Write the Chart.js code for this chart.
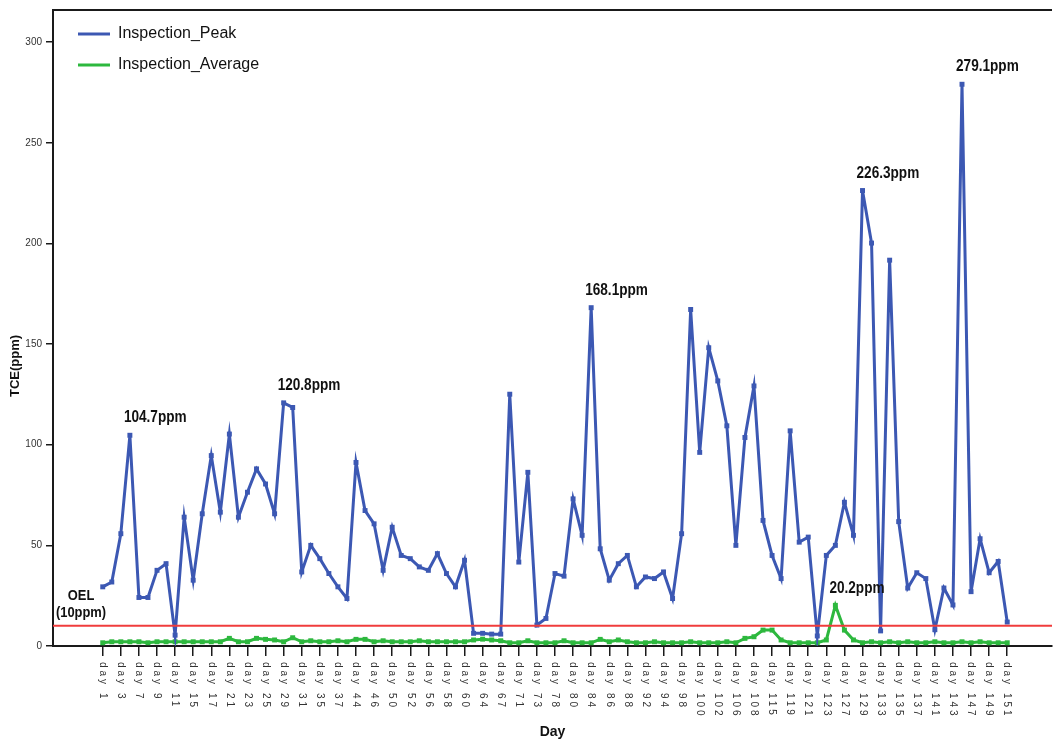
<!DOCTYPE html>
<html>
<head>
<meta charset="utf-8">
<script src="https://cdn.jsdelivr.net/npm/chart.js@4.4.0/dist/chart.umd.min.js"></script>
<style>
  html, body { margin: 0; padding: 0; background: #fff; }
  #wrap { width: 1056px; height: 745px; }
</style>
</head>
<body>
<div id="wrap"><canvas id="myChart" width="1056" height="745"></canvas></div>
<script>
// inspection days shown on the axis (every second sample)
const dayTicks = [
  'day 1', 'day 3', 'day 7', 'day 9', 'day 11', 'day 15', 'day 17', 'day 21', 'day 23', 'day 25',
  'day 29', 'day 31', 'day 35', 'day 37', 'day 44', 'day 46', 'day 50', 'day 52', 'day 56', 'day 58',
  'day 60', 'day 64', 'day 67', 'day 71', 'day 73', 'day 78', 'day 80', 'day 84', 'day 86', 'day 88',
  'day 92', 'day 94', 'day 98', 'day 100', 'day 102', 'day 106', 'day 108', 'day 115', 'day 119', 'day 121',
  'day 123', 'day 127', 'day 129', 'day 133', 'day 135', 'day 137', 'day 141', 'day 143', 'day 147', 'day 149',
  'day 151'
]

// TCE peak per inspection (ppm)
const peakValues = [
  29.4, 31.8, 55.8, 104.7, 24.1, 24.1, 37.6, 40.9, 5.4, 64.0,
  32.7, 65.7, 94.6, 66.5, 105.3, 64.0, 76.4, 88.0, 80.5, 65.7,
  120.8, 118.5, 36.8, 50.0, 43.4, 36.0, 29.4, 23.6, 91.2, 67.3,
  60.7, 37.6, 59.0, 45.0, 43.4, 39.3, 37.6, 45.9, 36.0, 29.4,
  42.6, 6.3, 6.3, 5.9, 5.9, 125.1, 41.7, 86.3, 10.4, 13.7,
  36.0, 34.7, 73.1, 55.0, 168.1, 48.3, 32.7, 40.9, 45.0, 29.4,
  34.3, 33.5, 36.8, 23.6, 55.8, 167.2, 96.2, 148.2, 131.7, 109.4,
  50.0, 103.6, 129.2, 62.4, 45.0, 33.5, 106.9, 51.6, 54.1, 5.0,
  45.0, 50.0, 71.4, 55.0, 226.3, 200.2, 7.5, 191.7, 61.8, 28.8,
  36.4, 33.5, 8.1, 28.8, 20.4, 279.1, 27.0, 53.3, 36.4, 42.0,
  11.9
]

// TCE average per inspection (ppm)
const averageValues = [
  1.6, 2.1, 2.1, 2.1, 2.1, 1.6, 2.1, 2.1, 2.1, 2.1,
  2.1, 2.1, 2.1, 2.1, 3.8, 2.1, 2.1, 3.8, 3.3, 3.0,
  2.1, 4.1, 2.1, 2.6, 2.1, 2.1, 2.6, 2.1, 3.3, 3.3,
  2.1, 2.6, 2.1, 2.1, 2.1, 2.6, 2.1, 2.1, 2.1, 2.1,
  2.1, 3.0, 3.4, 3.0, 2.6, 1.6, 1.6, 2.6, 1.6, 1.6,
  1.6, 2.6, 1.6, 1.6, 1.6, 3.3, 2.1, 3.0, 2.1, 1.6,
  1.6, 2.1, 1.6, 1.6, 1.6, 2.1, 1.6, 1.6, 1.6, 2.1,
  1.6, 3.8, 4.6, 7.9, 7.9, 3.0, 1.6, 1.6, 1.6, 1.6,
  3.0, 20.2, 7.9, 3.0, 1.6, 2.1, 1.6, 2.1, 1.6, 2.1,
  1.6, 1.6, 2.1, 1.6, 1.6, 2.1, 1.6, 2.1, 1.6, 1.6,
  1.6
]

const oelLevel = 10
const yTicks = [0, 50, 100, 150, 200, 250, 300]

// samples that get a value note
const peakNotes = [3, 20, 54, 84, 95]
const averageNotes = [81]

const BLUE = '#3c58b3'
const GREEN = '#2db83e'
const RED = '#f03c3c'
const INK = '#1a1a1a'
const SANS = '"Liberation Sans", Arial, sans-serif'

const toPoints = (values) => values.map((v, i) => ({ x: i, y: v }))

// squeezed bold text, the canvas has no condensed face to hand
const narrowText = (ctx, text, x, y, squeeze) => {
  ctx.save()
  ctx.translate(x, y)
  ctx.scale(squeeze, 1)
  ctx.fillText(text, 0, 0)
  ctx.restore()
}

const chartDecor = {
  id: 'chartDecor',
  afterLayout(chart) {
    // keep the in-plot legend clear of the axes
    chart.legend.left += 10
    chart.legend.top += 11
  },
  afterDatasetsDraw(chart) {
    const { ctx, chartArea, scales: { x, y } } = chart
    ctx.save()

    // occupational exposure limit
    const yOel = y.getPixelForValue(oelLevel)
    ctx.strokeStyle = RED
    ctx.lineWidth = 2
    ctx.beginPath()
    ctx.moveTo(chartArea.left, yOel)
    ctx.lineTo(chartArea.right, yOel)
    ctx.stroke()

    ctx.fillStyle = '#111'
    ctx.font = 'bold 15px ' + SANS
    ctx.textAlign = 'center'
    ctx.textBaseline = 'alphabetic'
    const cx = chartArea.left + 28
    narrowText(ctx, 'OEL', cx, yOel - 26, 0.86)
    narrowText(ctx, '(' + oelLevel + 'ppm)', cx, yOel - 9, 0.86)

    // value notes over the highest readings
    ctx.font = 'bold 17px ' + SANS
    ctx.textAlign = 'left'
    ctx.textBaseline = 'bottom'
    const note = (values, i) => {
      const px = x.getPixelForValue(i)
      const py = y.getPixelForValue(values[i])
      narrowText(ctx, values[i].toFixed(1) + 'ppm', px - 6, py - 9, 0.8)
    }
    peakNotes.forEach((i) => note(peakValues, i))
    averageNotes.forEach((i) => note(averageValues, i))

    ctx.restore()
  },
  afterDraw(chart) {
    const { ctx, chartArea, scales: { x } } = chart
    ctx.save()

    // top edge of the plot frame
    ctx.strokeStyle = INK
    ctx.lineWidth = 2
    ctx.beginPath()
    ctx.moveTo(chartArea.left - 1, chartArea.top)
    ctx.lineTo(chartArea.right, chartArea.top)
    ctx.stroke()

    // day labels, turned to read top-down
    ctx.fillStyle = '#333'
    ctx.font = '10px ' + SANS
    ctx.letterSpacing = '3px'
    ctx.textAlign = 'left'
    ctx.textBaseline = 'middle'
    dayTicks.forEach((label, k) => {
      ctx.save()
      ctx.translate(x.getPixelForValue(k * 2), chartArea.bottom + 16)
      ctx.rotate(Math.PI / 2)
      ctx.fillText(label, 0, 0)
      ctx.restore()
    })
    ctx.letterSpacing = '0px'

    // y axis title
    ctx.fillStyle = '#111'
    ctx.font = 'bold 13px ' + SANS
    ctx.textAlign = 'center'
    ctx.textBaseline = 'middle'
    ctx.translate(15, (chartArea.top + chartArea.bottom) / 2 + 38)
    ctx.rotate(-Math.PI / 2)
    ctx.fillText('TCE(ppm)', 0, 0)

    ctx.restore()
  }
}

const config = {
  type: 'line',
  data: {
    datasets: [
      {
        label: 'Inspection_Peak',
        data: toPoints(peakValues),
        borderColor: BLUE,
        backgroundColor: BLUE,
        borderWidth: 3,
        pointStyle: 'rect',
        pointRadius: 3.5,
        pointBorderWidth: 0,
        tension: 0
      },
      {
        label: 'Inspection_Average',
        data: toPoints(averageValues),
        borderColor: GREEN,
        backgroundColor: GREEN,
        borderWidth: 3,
        pointStyle: 'rect',
        pointRadius: 3.5,
        pointBorderWidth: 0,
        tension: 0
      }
    ]
  },
  options: {
    responsive: false,
    animation: false,
    layout: { padding: { top: 8, right: 0, bottom: 0, left: 0 } },
    plugins: {
      legend: {
        position: 'chartArea',
        align: 'start',
        labels: {
          usePointStyle: true,
          pointStyleWidth: 32,
          padding: 15,
          color: '#111',
          font: { family: SANS, size: 16 },
          // plain line swatches in the series colour
          generateLabels: (chart) => chart.data.datasets.map((ds, i) => ({
            text: ds.label,
            datasetIndex: i,
            pointStyle: 'line',
            strokeStyle: ds.borderColor,
            fillStyle: ds.borderColor,
            lineWidth: 3,
            fontColor: '#111',
            hidden: !chart.isDatasetVisible(i)
          }))
        }
      },
      tooltip: { enabled: false }
    },
    scales: {
      x: {
        type: 'linear',
        min: -5.5,
        max: 104.95,
        afterBuildTicks: (scale) => {
          scale.ticks = dayTicks.map((d, k) => ({ value: k * 2 }))
        },
        afterFit: (scale) => { scale.height = 99 },
        ticks: { display: false },
        grid: { display: true, drawOnChartArea: false, drawTicks: true, tickLength: 10, color: INK, lineWidth: 1.5 },
        border: { display: true, color: INK, width: 2 },
        title: {
          display: true,
          text: 'Day',
          color: '#111',
          font: { family: SANS, size: 14, weight: 'bold' },
          padding: { top: 0, bottom: 4 }
        }
      },
      y: {
        min: 0,
        max: 316,
        afterBuildTicks: (scale) => {
          scale.ticks = yTicks.map((v) => ({ value: v }))
        },
        afterFit: (scale) => { scale.width = 53 },
        ticks: { color: '#333', padding: 4, font: { family: SANS, size: 10 } },
        grid: { display: true, drawOnChartArea: false, drawTicks: true, tickLength: 7, color: INK, lineWidth: 1.5 },
        border: { display: true, color: INK, width: 2 }
      }
    }
  },
  plugins: [chartDecor]
}

const myChart = new Chart(document.getElementById('myChart'), config)
</script>
</body>
</html>
